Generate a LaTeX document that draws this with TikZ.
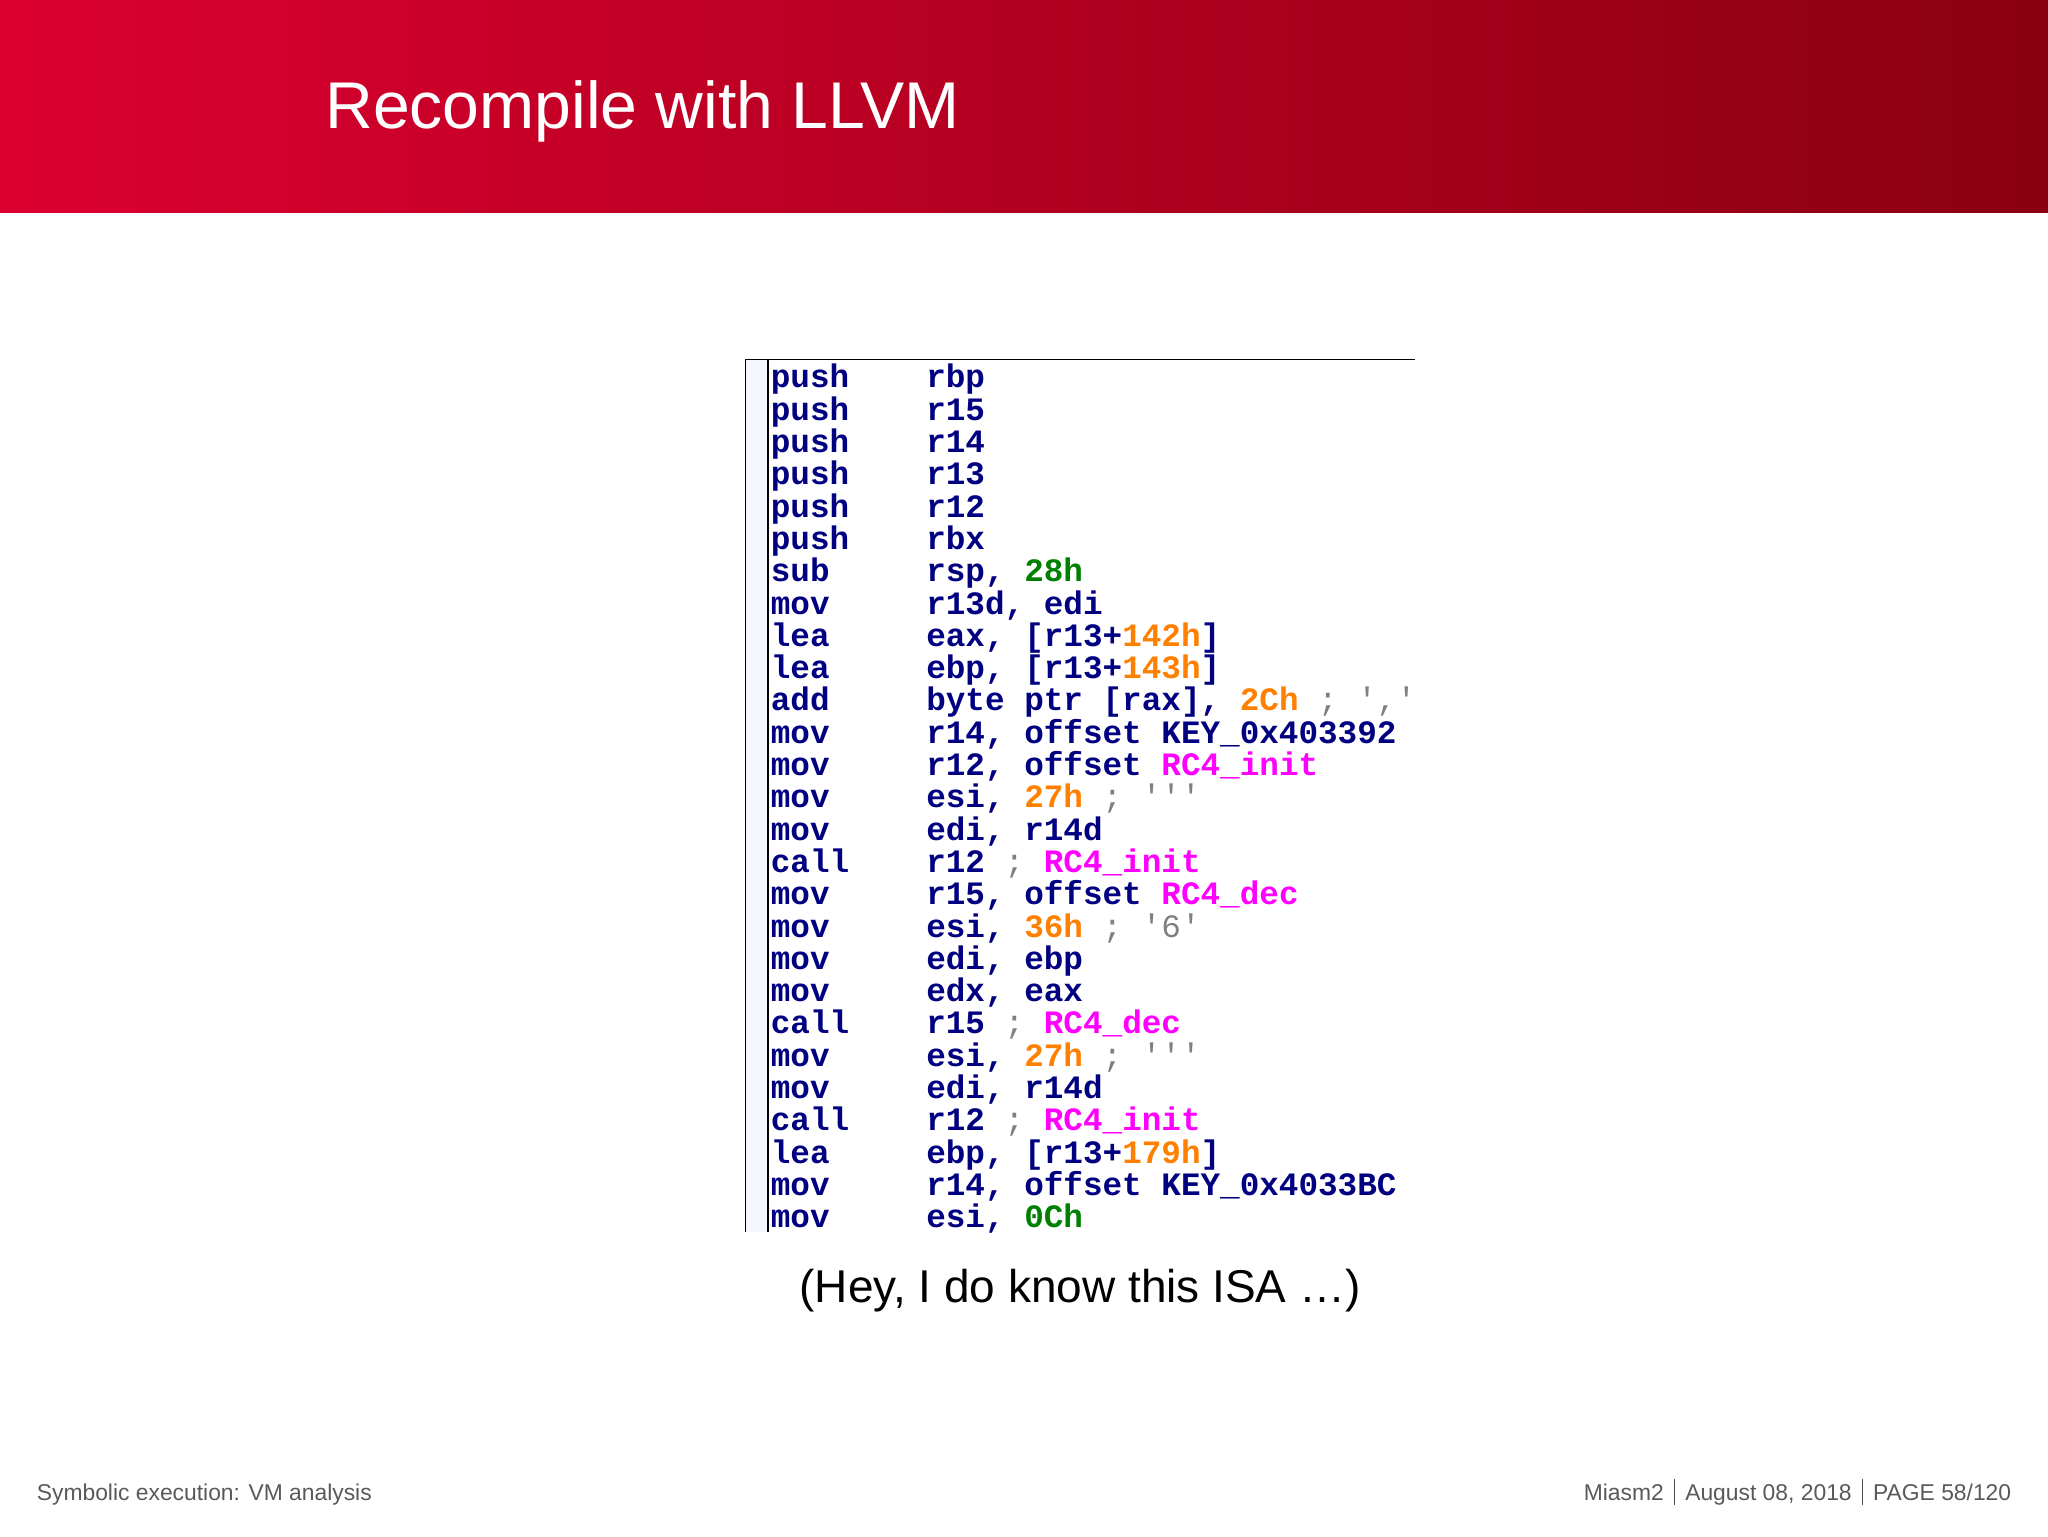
\documentclass[tikz,border=0pt]{standalone}
\usepackage{fontspec}
\setmainfont{Liberation Sans}
\newfontfamily\codefont{Liberation Mono}
\definecolor{hdrA}{HTML}{DC0030}
\definecolor{hdrB}{HTML}{8A0010}
\definecolor{cnavy}{HTML}{000080}
\definecolor{cgreen}{HTML}{008000}
\definecolor{corange}{HTML}{FF8000}
\definecolor{cmag}{HTML}{FF00FF}
\definecolor{cgrey}{HTML}{808080}
\definecolor{gutter}{HTML}{F4F8FC}
\newcommand{\G}[1]{\textcolor{cgreen}{#1}}
\newcommand{\Or}[1]{\textcolor{corange}{#1}}
\newcommand{\M}[1]{\textcolor{cmag}{#1}}
\newcommand{\Cm}[1]{\textcolor{cgrey}{\mdseries #1}}
\begin{document}
\begin{tikzpicture}[x=1pt,y=-1pt,
  code/.style={anchor=base west,inner sep=0pt,font=\codefont\bfseries\fontsize{25}{25}\selectfont,text=cnavy},
  foot/.style={anchor=base west,inner sep=0pt,font=\fontsize{17.5}{17.5}\selectfont,text=black!65}]
\useasboundingbox (0,0) rectangle (1568,1176);
\fill[left color=hdrA,right color=hdrB] (0,0) rectangle (1568,163);
\node[anchor=base west,inner sep=0pt,text=white,font=\fontsize{50.6}{50.6}\selectfont] (title) at (249,98) {Recompile with LLVM};
% code box
\fill[gutter] (571,275) rectangle (588,943);
\draw[line width=1pt] (571,943) -- (571,275) -- (1083,275);
\draw[line width=1pt] (588,275) -- (588,943);
\foreach \i/\m/\o in {
0/push/rbp, 1/push/r15, 2/push/r14, 3/push/r13, 4/push/r12, 5/push/rbx,
6/sub/{rsp, \G{28h}},
7/mov/{r13d, edi},
8/lea/{eax, [r13+\Or{142h}]},
9/lea/{ebp, [r13+\Or{143h}]},
10/add/{byte ptr [rax], \Or{2Ch} \Cm{; ','}},
11/mov/{r14, offset KEY\_0x403392},
12/mov/{r12, offset \M{RC4\_init}},
13/mov/{esi, \Or{27h} \Cm{; '''}},
14/mov/{edi, r14d},
15/call/{r12 \Cm{;} \M{RC4\_init}},
16/mov/{r15, offset \M{RC4\_dec}},
17/mov/{esi, \Or{36h} \Cm{; '6'}},
18/mov/{edi, ebp},
19/mov/{edx, eax},
20/call/{r15 \Cm{;} \M{RC4\_dec}},
21/mov/{esi, \Or{27h} \Cm{; '''}},
22/mov/{edi, r14d},
23/call/{r12 \Cm{;} \M{RC4\_init}},
24/lea/{ebp, [r13+\Or{179h}]},
25/mov/{r14, offset KEY\_0x4033BC},
26/mov/{esi, \G{0Ch}}}{
  \node[code] (m\i) at (590,{297+24.73*\i}) {\m};
  \node[code] (o\i) at (709,{297+24.73*\i}) {\o};
}
\node[anchor=base,inner sep=0pt,font=\fontsize{35.2}{35.2}\selectfont] (cap) at (827,997) {(Hey, I do know this ISA \dots)};
\node[foot] (fl) at (28,1149) {Symbolic execution: VM analysis};
\node[foot,anchor=base east] (fr) at (1540,1149) {Miasm2 \,\textcolor{black!70}{\rule[-3pt]{0.8pt}{20pt}}\, August 08, 2018 \,\textcolor{black!70}{\rule[-3pt]{0.8pt}{20pt}}\, PAGE 58/120};
\end{tikzpicture}
\end{document}
